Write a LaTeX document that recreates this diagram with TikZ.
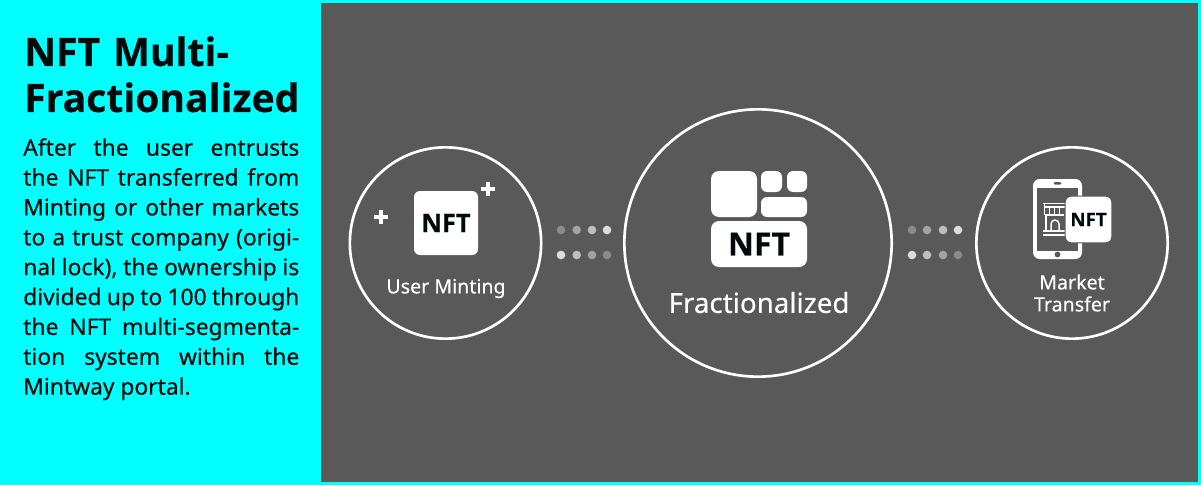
\documentclass[tikz,border=0pt]{standalone}
\usepackage{fontspec}
\setmainfont{Noto Sans}
\newfontfamily\mediumfont{Noto Sans}[FakeBold=0.35]
\newfontfamily\heavyfont{Open Sans}[BoldFeatures={FakeBold=0.5}]
\definecolor{panelcyan}{HTML}{00FFFF}
\definecolor{panelgray}{HTML}{595959}
\definecolor{inkblack}{HTML}{000A0A}
\tikzset{
    ringline/.style={draw=white, line width=2pt, fill=none},
    iconbox/.style={fill=white, rounded corners=4.5pt},
    caption/.style={text=white, font=\mediumfont\fontsize{14.7}{16.5}\selectfont, align=center},
    nftmark/.style={text=inkblack, font=\heavyfont\bfseries\fontsize{#1}{#1}\selectfont, inner sep=0pt},
    plusmark/.style={draw=white, line width=2.3pt},
}
\begin{document}
\begin{tikzpicture}[x=0.75pt, y=-0.75pt]
    \useasboundingbox (0,0) rectangle (1201,485);
    \fill[panelcyan] (0,0) rectangle (1201,485);
    \fill[panelgray] (320.5,3) rectangle (1198,482);

    % left text
    \node[anchor=north west, inner sep=0pt, text width=215pt, align=left, text=inkblack,
        font=\heavyfont\bfseries\fontsize{29.3}{34.5}\selectfont] (title) at (24,36) {NFT Multi-\\Fractionalized};
    \node[anchor=north west, inner sep=0pt, text width=207pt, align=justify, text=inkblack,
        font=\mediumfont\fontsize{17.1}{22.4}\selectfont] (body) at (23,138)
        {After the user entrusts\linebreak the NFT transferred from\linebreak Minting or other markets\linebreak
        to a trust company (origi-\linebreak nal lock), the ownership is\linebreak divided up to 100 through\linebreak
        the NFT multi-segmenta-\linebreak tion system within the\linebreak Mintway portal.};

    % rings
    \node[ringline, circle, minimum size=143.5pt, inner sep=0pt] (minting) at (445.5,243) {};
    \node[ringline, circle, minimum size=200.5pt, inner sep=0pt] (fraction) at (758,243) {};
    \node[ringline, circle, minimum size=143.5pt, inner sep=0pt] (market) at (1072,243) {};

    % user minting
    \node[iconbox, minimum size=48pt, inner sep=0pt] (mintbox) at (446,223) {};
    \node[nftmark=19] (mintnft) at (mintbox) {NFT};
    \draw[plusmark] (481,189) -- (495,189) (488,182) -- (488,196);
    \draw[plusmark] (374,217) -- (388,217) (381,210) -- (381,224);
    \node[caption] (mintlabel) at (446,288.5) {User Minting};

    % fractionalized
    \fill[white, rounded corners=6pt] (711,171) rectangle (757,217);
    \fill[white, rounded corners=4.5pt] (761,171) rectangle (782,192);
    \fill[white, rounded corners=4.5pt] (787,171) rectangle (807,192);
    \fill[white, rounded corners=4.5pt] (761,197) rectangle (807,217);
    \fill[white, rounded corners=6pt] (711,221) rectangle (807,267);
    \node[nftmark=24] (fractionnft) at (759,244) {NFT};
    \node[caption, font=\mediumfont\fontsize{20.8}{22}\selectfont] (fractionlabel) at (759,302.5) {Fractionalized};

    % market transfer
    \fill[white, rounded corners=5pt] (1033,179) rectangle (1082,259);
    \fill[panelgray] (1037,188) rectangle (1078,250.5);
    \fill[panelgray, rounded corners=1pt] (1053.5,182) rectangle (1061.5,184.5);
    \fill[panelgray] (1057.5,254.5) circle (2.9);
    \draw[white, line width=1.1pt] (1043,203.5) -- (1066,203.5) (1043.5,207) -- (1066,207)
        (1044.5,204) -- (1044.5,215) (1049.5,207) -- (1049.5,215) (1054.5,207) -- (1054.5,215) (1059.5,207) -- (1059.5,215)
        (1044.5,215) -- (1064,215) (1046,215) -- (1046,231) (1043,235) -- (1066,235) (1043,231) -- (1066,231);
    \draw[white, line width=1.1pt] (1051,231) -- (1051,224) arc (180:360:4) -- (1059,231);
    \node[iconbox, draw=panelgray, line width=0.8pt, minimum size=35pt, inner sep=0pt] (marketbox) at (1088.5,219.5) {};
    \node[nftmark=14] (marketnft) at (marketbox) {NFT};
    \node[caption] (marketlabel) at (1072,293) {Market\\Transfer};

    % dots
    \foreach \xa/\op in {561/0.3, 576.7/0.45, 592/0.62, 607/0.8, 912/0.3, 927/0.45, 943/0.62, 958/0.8}
        \fill[white, opacity=\op] (\xa,230) circle (4.3);
    \foreach \xa/\op in {561/0.8, 576.7/0.62, 592/0.45, 607/0.3, 912/0.8, 927/0.62, 943/0.45, 958/0.3}
        \fill[white, opacity=\op] (\xa,255) circle (4.3);
\end{tikzpicture}
\end{document}
